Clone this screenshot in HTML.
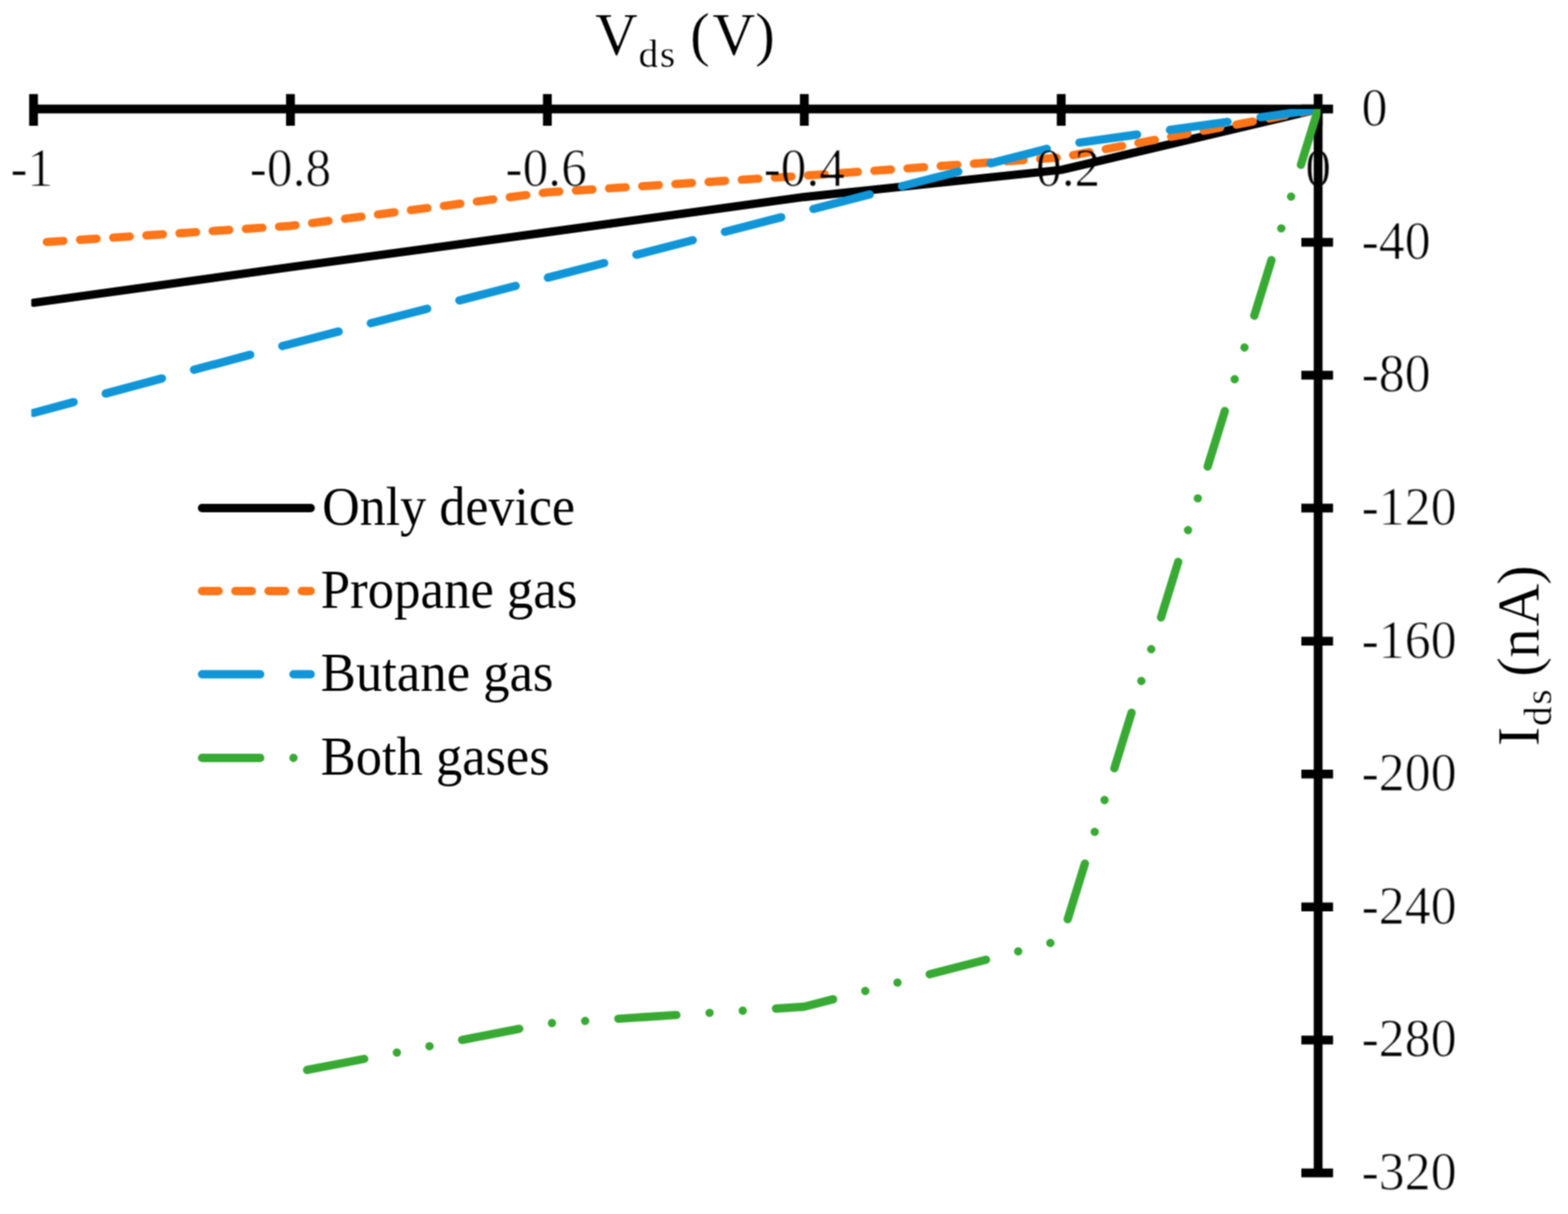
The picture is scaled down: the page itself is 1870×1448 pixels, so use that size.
<!DOCTYPE html>
<html lang="en"><head><meta charset="utf-8"><title>Ids vs Vds</title>
<style>
html,body{margin:0;padding:0;background:#fff;}
body{width:1870px;height:1448px;overflow:hidden;}
svg{display:block;}
text{font-family:"Liberation Serif","Times New Roman",Times,serif;fill:#000;}
</style></head><body>
<svg width="1870" height="1448" viewBox="0 0 1870 1448">
<rect width="1870" height="1448" fill="#fff"/>
<defs><clipPath id="plot"><rect x="37.3" y="129.9" width="1537.5" height="1275"/></clipPath><filter id="soft" x="0" y="0" width="1870" height="1448" filterUnits="userSpaceOnUse" color-interpolation-filters="sRGB"><feConvolveMatrix order="3" kernelMatrix="1 2 1 2 4 2 1 2 1" divisor="16" edgeMode="duplicate" preserveAlpha="false"/></filter><filter id="dig" x="-5%" y="-25%" width="110%" height="150%" color-interpolation-filters="sRGB"><feConvolveMatrix order="3" kernelMatrix="1 2 1 2 4 2 1 2 1" divisor="16" edgeMode="duplicate" preserveAlpha="false" in="SourceGraphic"/><feComponentTransfer result="e"><feFuncA type="linear" slope="3.500" intercept="-2.400"/></feComponentTransfer><feComponentTransfer in="SourceGraphic" result="f"><feFuncA type="linear" slope="0.400" intercept="0"/></feComponentTransfer><feMerge><feMergeNode in="f"/><feMergeNode in="e"/></feMerge></filter><filter id="ttl" x="-5%" y="-25%" width="110%" height="150%" color-interpolation-filters="sRGB"><feConvolveMatrix order="3" kernelMatrix="1 2 1 2 4 2 1 2 1" divisor="16" edgeMode="duplicate" preserveAlpha="false" in="SourceGraphic"/><feComponentTransfer result="e"><feFuncA type="linear" slope="3.000" intercept="-1.600"/></feComponentTransfer><feComponentTransfer in="SourceGraphic" result="f"><feFuncA type="linear" slope="0.500" intercept="0"/></feComponentTransfer><feMerge><feMergeNode in="f"/><feMergeNode in="e"/></feMerge></filter></defs>
<g filter="url(#soft)">
<rect width="1870" height="1448" fill="#fff"/>
<g stroke="#000" stroke-width="10.50" fill="none" stroke-linecap="butt">
<line x1="40.00" y1="130.00" x2="1572.00" y2="130.00"/>
<line x1="1572.00" y1="130.00" x2="1572.00" y2="1399.00"/>
<line x1="40.00" y1="112.2" x2="40.00" y2="150"/>
<line x1="346.40" y1="112.2" x2="346.40" y2="150"/>
<line x1="652.80" y1="112.2" x2="652.80" y2="150"/>
<line x1="959.20" y1="112.2" x2="959.20" y2="150"/>
<line x1="1265.60" y1="112.2" x2="1265.60" y2="150"/>
<line x1="1572.00" y1="112.2" x2="1572.00" y2="150"/>
<line x1="1552" y1="130.00" x2="1589.8" y2="130.00"/>
<line x1="1552" y1="288.89" x2="1589.8" y2="288.89"/>
<line x1="1552" y1="447.48" x2="1589.8" y2="447.48"/>
<line x1="1552" y1="606.06" x2="1589.8" y2="606.06"/>
<line x1="1552" y1="764.65" x2="1589.8" y2="764.65"/>
<line x1="1552" y1="923.24" x2="1589.8" y2="923.24"/>
<line x1="1552" y1="1081.83" x2="1589.8" y2="1081.83"/>
<line x1="1552" y1="1240.41" x2="1589.8" y2="1240.41"/>
<line x1="1552" y1="1399.00" x2="1589.8" y2="1399.00"/>
</g>
<g clip-path="url(#plot)" fill="none" stroke-width="9.90" stroke-linecap="round" stroke-linejoin="round">
<path d="M1572.00 130.30 L1265.60 202.66 L959.20 234.97 L652.80 276.99 L346.40 318.62 L40.00 361.04" stroke="#000000"/>
<path d="M1572.00 130.30 L1265.60 187.79 L959.20 209.59 L652.80 229.42 L346.40 269.46 L40.00 289.68" stroke="#ff7518" stroke-dasharray="19.82 19.82"/>
<path d="M1572.00 130.30 L1265.60 173.12 L959.20 252.02 L652.80 331.31 L346.40 410.21 L40.00 492.47" stroke="#1096d8" stroke-dasharray="69.38 39.65"/>
<path d="M1572.00 130.30 L1265.60 1121.47 L959.20 1200.77 L652.80 1220.59 L346.40 1280.06" stroke="#38aa34" stroke-dasharray="69.38 39.65 0.01 39.65 0.01 39.65"/>
</g>
<g fill="none" stroke-width="9.90" stroke-linecap="round">
<path d="M240.96 606.00 L370.54 606.00" stroke="#000000"/>
<path d="M240.96 705.00 L370.54 705.00" stroke="#ff7518" stroke-dasharray="19.82 19.82"/>
<path d="M240.96 804.30 L370.54 804.30" stroke="#1096d8" stroke-dasharray="69.38 39.65"/>
<path d="M240.96 904.00 L370.54 904.00" stroke="#38aa34" stroke-dasharray="69.38 39.65 0.01 39.65 0.01 39.65"/>
</g>
<g font-size="62" text-anchor="middle" filter="url(#dig)">
<text transform="translate(38.00 222.00) scale(0.9900 1.0450)">-1</text>
<text transform="translate(346.40 222.00) scale(0.9900 1.0450)">-0.8</text>
<text transform="translate(651.30 222.00) scale(0.9900 1.0450)">-0.6</text>
<text transform="translate(959.20 222.00) scale(0.9900 1.0450)">-0.4</text>
<text transform="translate(1263.70 222.00) scale(0.9900 1.0450)">-0.2</text>
<text transform="translate(1572.00 222.00) scale(0.9900 1.0450)">0</text>
</g>
<g font-size="62" text-anchor="start" filter="url(#dig)">
<text transform="translate(1623.70 150.30) scale(1.0000 1.0450)">0</text>
<text transform="translate(1623.70 308.89) scale(1.0000 1.0450)">-40</text>
<text transform="translate(1623.70 467.48) scale(1.0000 1.0450)">-80</text>
<text transform="translate(1623.70 626.06) scale(1.0000 1.0450)">-120</text>
<text transform="translate(1623.70 784.65) scale(1.0000 1.0450)">-160</text>
<text transform="translate(1623.70 943.24) scale(1.0000 1.0450)">-200</text>
<text transform="translate(1623.70 1101.83) scale(1.0000 1.0450)">-240</text>
<text transform="translate(1623.70 1260.41) scale(1.0000 1.0450)">-280</text>
<text transform="translate(1623.70 1419.00) scale(1.0000 1.0450)">-320</text>
</g>
<g font-size="62.3" text-anchor="start">
<text transform="translate(384.30 625.50) scale(0.9960 1.0450)">Only device</text>
<text transform="translate(382.50 725.00) scale(1.0110 1.0450)">Propane gas</text>
<text transform="translate(382.50 824.10) scale(1.0090 1.0450)">Butane gas</text>
<text transform="translate(382.50 923.50) scale(1.0050 1.0450)">Both gases</text>
</g>
<g filter="url(#ttl)">
<text transform="translate(0.00 64.60) scale(1.0000 1.0000)" font-size="71" xml:space="preserve"><tspan x="709.60" y="0">V</tspan><tspan x="761.60 787.00" y="15.70" font-size="47">ds</tspan><tspan x="805.00 823.00 849.40 900.60" y="0"> (V)</tspan></text>
<text transform="translate(1835.00 889.00) rotate(-90) scale(1.0000 1.0000)" font-size="71" xml:space="preserve"><tspan x="-1.20" y="0">I</tspan><tspan x="23.00 48.50" y="14.50" font-size="47">ds</tspan><tspan x="63.80 81.80 104.30 141.80 191.30" y="0"> (nA)</tspan></text>
</g>
</g>
</svg>
</body></html>
